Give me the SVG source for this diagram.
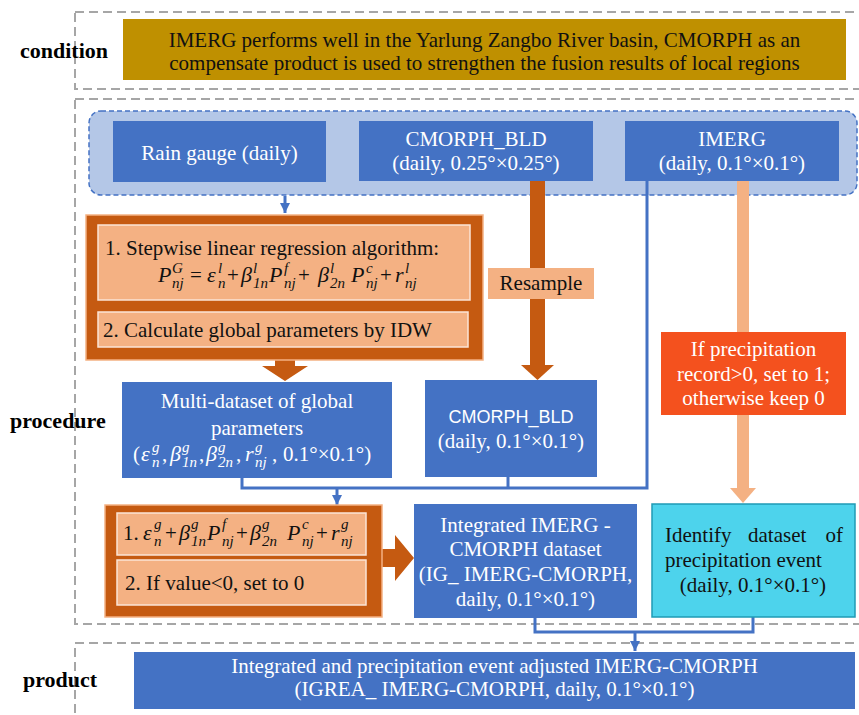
<svg xmlns="http://www.w3.org/2000/svg" width="859" height="715" viewBox="0 0 859 715">
<defs>
<style>
.gd{fill:none;stroke:#A6A6A6;stroke-width:2;stroke-dasharray:9 5}
.blue{fill:#4472C4}
.t{font-family:"Liberation Serif","DejaVu Serif",serif;font-size:21px;font-style:normal}
.c{text-anchor:middle}
.w{fill:#ffffff}
.k{fill:#111111}
.lbl{font-family:"Liberation Serif","DejaVu Serif",serif;font-size:22px;font-weight:bold;fill:#000000}
.m{font-family:"Liberation Serif","DejaVu Serif",serif;font-style:italic;font-size:22px}
.s{font-size:15px}
.ln{fill:none;stroke:#4472C4;stroke-width:3}
.dor{fill:#C55A11;stroke:#F4B183;stroke-width:1.5}
.lor{fill:#F4B183;stroke:#FBE5D6;stroke-width:1.5}
</style>
<marker id="ah" viewBox="0 0 10 10" refX="10" refY="5" markerWidth="3.5" markerHeight="3.5" orient="auto" markerUnits="strokeWidth">
<path d="M0,0 L10,5 L0,10 z" fill="#4472C4"/>
</marker>
</defs>
<rect width="859" height="715" fill="#ffffff"/>

<g id="frames">
<rect class="gd" x="75" y="12" width="810" height="77"/>
<rect class="gd" x="75" y="99" width="810" height="525"/>
<rect class="gd" x="75" y="643" width="810" height="100"/>
<text class="lbl" x="20" y="58">condition</text>
<text class="lbl" x="10" y="428">procedure</text>
<text class="lbl" x="23" y="687">product</text>
</g>

<g id="condition">
<rect x="123" y="19" width="723" height="61" fill="#BF9000"/>
<text class="t c k" x="484.5" y="47">IMERG performs well in the Yarlung Zangbo River basin, CMORPH as an</text>
<text class="t c k" x="484.5" y="70">compensate product is used to strengthen the fusion results of local regions</text>
</g>

<g id="inputs">
<rect x="89" y="111" width="768" height="84" rx="12" fill="#B4C7E7" stroke="#4472C4" stroke-width="1.5" stroke-dasharray="5 3"/>
</g>

<g id="raingauge">
<rect class="blue" x="113" y="121" width="213" height="61"/>
<text class="t c w" x="219.5" y="160">Rain gauge (daily)</text>
</g>

<g id="cmorph_bld">
<rect class="blue" x="359" y="121" width="234" height="60"/>
<text class="t c w" x="476" y="146">CMORPH_BLD</text>
<text class="t c w" x="476" y="170">(daily, 0.25°×0.25°)</text>
</g>

<g id="imerg">
<rect class="blue" x="625" y="121" width="214" height="60"/>
<text class="t c w" x="732" y="146">IMERG</text>
<text class="t c w" x="732" y="170">(daily, 0.1°×0.1°)</text>
</g>

<g id="connectors">
<path class="ln" d="M285,196 V213" stroke-width="2.5" marker-end="url(#ah)"/>
<path class="ln" d="M647,181 V488 H242 V478"/>
<path class="ln" d="M508,477 V488"/>
<path class="ln" d="M337,488 V505" marker-end="url(#ah)"/>
<path class="ln" d="M535,618 V632 H753 V617"/>
<path class="ln" d="M635,632 V651" marker-end="url(#ah)"/>
<rect x="530" y="181" width="15" height="185" fill="#C55A11"/>
<polygon points="521,365 554,365 537.5,380" fill="#C55A11"/>
<rect x="737" y="181" width="12" height="151" fill="#F4B183"/>
<rect x="737" y="415" width="12" height="74" fill="#F4B183"/>
<polygon points="730,488 756,488 743,503" fill="#F4B183"/>
<polygon points="275,360 295,360 295,366 308,366 285,381 262,366 275,366" fill="#C55A11"/>
<polygon points="382,549 395,549 395,535 414,558 395,581 395,567 382,567" fill="#C55A11"/>
</g>

<g id="resample">
<rect x="488" y="268" width="106" height="31" fill="#F4B183"/>
<text class="t c k" x="541" y="290">Resample</text>
</g>

<g id="regression">
<rect class="dor" x="86" y="215" width="397" height="145"/>
<rect class="lor" x="98" y="225" width="372" height="75"/>
<rect class="lor" x="98" y="312" width="370" height="35"/>
<text class="t k" x="105" y="255">1. Stepwise linear regression algorithm:</text>
<g class="m k">
<text x="158" y="282">P</text><text class="s" x="172" y="273">G</text><text class="s" x="172" y="288">nj</text>
<text class="t" x="190" y="282">=</text>
<text x="207" y="282">ε</text><text class="s" x="218" y="273">l</text><text class="s" x="218" y="288">n</text>
<text class="t" x="227" y="282">+</text>
<text x="241" y="282">β</text><text class="s" x="253" y="273">l</text><text class="s" x="253" y="288">1n</text>
<text x="269" y="282">P</text><text class="s" x="284" y="273">f</text><text class="s" x="284" y="288">nj</text>
<text class="t" x="298" y="282">+</text>
<text x="318" y="282">β</text><text class="s" x="330" y="273">l</text><text class="s" x="330" y="288">2n</text>
<text x="351" y="282">P</text><text class="s" x="366" y="273">c</text><text class="s" x="366" y="288">nj</text>
<text class="t" x="380" y="282">+</text>
<text x="395" y="282">r</text><text class="s" x="405" y="273">l</text><text class="s" x="405" y="288">nj</text>
</g>
<text class="t k" x="103" y="337">2. Calculate global parameters by IDW</text>
</g>

<g id="multidataset">
<rect class="blue" x="122" y="382" width="270" height="96"/>
<text class="t c w" x="257" y="408">Multi-dataset of global</text>
<text class="t c w" x="257" y="435">parameters</text>
<g class="m w">
<text class="t" x="133" y="461">(</text>
<text x="141" y="461">ε</text><text class="s" x="152" y="452">g</text><text class="s" x="152" y="467">n</text>
<text class="t" x="162" y="461">,</text>
<text x="170" y="461">β</text><text class="s" x="182" y="452">g</text><text class="s" x="182" y="467">1n</text>
<text class="t" x="199" y="461">,</text>
<text x="206" y="461">β</text><text class="s" x="218" y="452">g</text><text class="s" x="218" y="467">2n</text>
<text class="t" x="236" y="461">,</text>
<text x="245" y="461">r</text><text class="s" x="255" y="452">g</text><text class="s" x="255" y="467">nj</text>
<text class="t" x="272" y="461">,</text>
<text class="t" x="283" y="461">0.1°×0.1°)</text>
</g>
</g>

<g id="cmorph_bld_01">
<rect class="blue" x="425" y="380" width="172" height="97"/>
<text class="c w" x="511" y="423" font-family="'Liberation Sans','Noto Sans',sans-serif" font-size="18">CMORPH_BLD</text>
<text class="t c w" x="511" y="448">(daily, 0.1°×0.1°)</text>
</g>

<g id="precip_rule">
<rect x="661" y="332" width="185" height="83" fill="#F4511E"/>
<text class="t c w" x="753.5" y="356">If precipitation</text>
<text class="t c w" x="753.5" y="381">record&gt;0, set to 1;</text>
<text class="t c w" x="753.5" y="405">otherwise keep 0</text>
</g>

<g id="apply">
<rect class="dor" x="105" y="505" width="277" height="112"/>
<rect class="lor" x="117" y="513" width="249" height="42"/>
<rect class="lor" x="117" y="560" width="249" height="45"/>
<text class="t k" x="123" y="540">1.</text>
<g class="m k">
<text x="143" y="540">ε</text><text class="s" x="154" y="529">g</text><text class="s" x="154" y="546">n</text>
<text class="t" x="165" y="540">+</text>
<text x="179" y="540">β</text><text class="s" x="191" y="529">g</text><text class="s" x="191" y="546">1n</text>
<text x="207" y="540">P</text><text class="s" x="222" y="529">f</text><text class="s" x="222" y="546">nj</text>
<text class="t" x="236" y="540">+</text>
<text x="250" y="540">β</text><text class="s" x="262" y="529">g</text><text class="s" x="262" y="546">2n</text>
<text x="287" y="540">P</text><text class="s" x="302" y="529">c</text><text class="s" x="302" y="546">nj</text>
<text class="t" x="316" y="540">+</text>
<text x="331" y="540">r</text><text class="s" x="341" y="529">g</text><text class="s" x="341" y="546">nj</text>
</g>
<text class="t k" x="125" y="590">2. If value&lt;0, set to 0</text>
</g>

<g id="integrated">
<rect class="blue" x="414" y="504" width="223" height="114"/>
<text class="t c w" x="525.5" y="532">Integrated IMERG -</text>
<text class="t c w" x="525.5" y="556">CMORPH dataset</text>
<text class="t c w" x="525.5" y="581">(IG_ IMERG-CMORPH,</text>
<text class="t c w" x="525.5" y="606">daily, 0.1°×0.1°)</text>
</g>

<g id="event">
<rect x="652" y="504" width="203" height="113" fill="#4DD3EC" stroke="#1F9BB5" stroke-width="1.5"/>
<text class="t k" x="665" y="542">Identify</text>
<text class="t k" x="748" y="542">dataset</text>
<text class="t k" x="843" y="542" text-anchor="end">of</text>
<text class="t k" x="665" y="567">precipitation event</text>
<text class="t c k" x="753" y="592">(daily, 0.1°×0.1°)</text>
</g>

<g id="product">
<rect class="blue" x="134" y="652" width="721" height="57"/>
<text class="t c w" x="494.5" y="673">Integrated and precipitation event adjusted IMERG-CMORPH</text>
<text class="t c w" x="494.5" y="696">(IGREA_ IMERG-CMORPH, daily, 0.1°×0.1°)</text>
</g>
</svg>
